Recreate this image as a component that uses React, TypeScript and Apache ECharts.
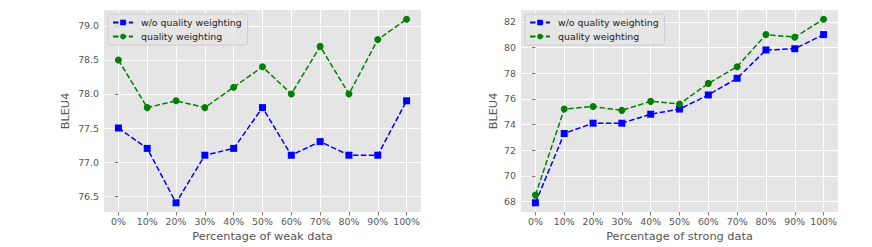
import React, { useEffect, useRef } from "react";
import * as echarts from "echarts";

const categories = ["0%", "10%", "20%", "30%", "40%", "50%", "60%", "70%", "80%", "90%", "100%"];
const weakWithout = [77.5, 77.2, 76.4, 77.1, 77.2, 77.8, 77.1, 77.3, 77.1, 77.1, 77.9];
const weakWith = [78.5, 77.8, 77.9, 77.8, 78.1, 78.4, 78.0, 78.7, 78.0, 78.8, 79.1];
const strongWithout = [67.9, 73.3, 74.1, 74.1, 74.8, 75.2, 76.3, 77.6, 79.8, 79.9, 81.0];
const strongWith = [68.5, 75.2, 75.4, 75.1, 75.8, 75.6, 77.2, 78.5, 81.0, 80.8, 82.2];
const weakTicks = [76.5, 77.0, 77.5, 78.0, 78.5, 79.0];
const strongTicks = [68, 70, 72, 74, 76, 78, 80, 82];
const xTicks = categories.map((_, i) => i);
const nameWithout = "w/o quality weighting";
const nameWith = "quality weighting";

const FONT = "DejaVu Sans";
const GRAY = "#555555";

function pairs(vals: number[]) {
  return vals.map((v, i) => [i, v]);
}

export default function App() {
  const ref = useRef<HTMLDivElement>(null);
  useEffect(() => {
    const chart = echarts.init(ref.current!, null, { renderer: "svg" });
    const dash = [5.5, 2.4];
    const xAxisBase = (gridIndex: number, name: string) => ({
      type: "value",
      gridIndex,
      min: -0.5,
      max: 10.5,
      name,
      nameLocation: "middle",
      nameGap: 19,
      nameTextStyle: { color: GRAY, fontSize: 11.3, fontFamily: FONT },
      axisLine: { show: false },
      axisTick: { show: true, length: 3.5, customValues: xTicks, lineStyle: { color: GRAY, width: 0.8 } },
      axisLabel: {
        customValues: xTicks,
        color: GRAY,
        fontSize: 9.4,
        fontFamily: FONT,
        margin: 5,
        formatter: (v: number) => categories[Math.round(v)] ?? "",
      },
      splitLine: { show: true, lineStyle: { color: "#ffffff", width: 1 } },
    });
    const yAxisBase = (gridIndex: number, min: number, max: number, ticks: number[], nameGap: number, fmt: (v: number) => string) => ({
      type: "value",
      gridIndex,
      min,
      max,
      name: "BLEU4",
      nameLocation: "middle",
      nameGap,
      nameTextStyle: { color: GRAY, fontSize: 11.3, fontFamily: FONT },
      axisLine: { show: false },
      axisTick: { show: true, length: 3.5, customValues: ticks, lineStyle: { color: GRAY, width: 0.8 } },
      axisLabel: { customValues: ticks, color: GRAY, fontSize: 9.4, fontFamily: FONT, margin: 5, formatter: fmt },
      splitLine: { show: true, lineStyle: { color: "#ffffff", width: 1 } },
    });
    const seriesBase = (name: string, data: number[], idx: number, blue: boolean) => ({
      type: "line",
      name,
      xAxisIndex: idx,
      yAxisIndex: idx,
      data: pairs(data),
      symbol: blue ? "rect" : "circle",
      symbolSize: blue ? 7 : 7,
      itemStyle: { color: blue ? "#0000ff" : "#008000" },
      lineStyle: { color: blue ? "#0000ff" : "#008000", width: 1.5, type: dash },
    });
    const legendBase = (left: number) => ({
      left,
      top: 14,
      orient: "vertical",
      itemWidth: 20,
      itemHeight: 7,
      itemGap: 5,
      padding: [4, 6, 4, 4],
      backgroundColor: "rgba(229,229,229,0.8)",
      borderColor: "#cccccc",
      borderWidth: 1,
      borderRadius: 3,
      selectedMode: false,
      textStyle: { color: "#222222", fontSize: 9.4, fontFamily: FONT, padding: [0, 0, 0, 3] },
      data: [nameWithout, nameWith],
    });
    chart.setOption({
      animation: false,
      textStyle: { fontFamily: FONT },
      grid: [
        { left: 104, top: 10, width: 317, height: 206, show: true, backgroundColor: "#e5e5e5", borderWidth: 0 },
        { left: 521, top: 10, width: 317, height: 206, show: true, backgroundColor: "#e5e5e5", borderWidth: 0 },
      ],
      xAxis: [xAxisBase(0, "Percentage of weak data"), xAxisBase(1, "Percentage of strong data")],
      yAxis: [
        yAxisBase(0, 76.265, 79.235, weakTicks, 33, (v: number) => v.toFixed(1)),
        yAxisBase(1, 67.185, 82.915, strongTicks, 22, (v: number) => String(v)),
      ],
      legend: [legendBase(108), legendBase(525)],
      series: [
        seriesBase(nameWithout, weakWithout, 0, true),
        seriesBase(nameWith, weakWith, 0, false),
        seriesBase(nameWithout, strongWithout, 1, true),
        seriesBase(nameWith, strongWith, 1, false),
      ],
    });
    return () => chart.dispose();
  }, []);
  return (
    <div
      ref={ref}
      style={{ position: "fixed", left: 0, top: 0, width: 872, height: 247, background: "#ffffff" }}
    />
  );
}
